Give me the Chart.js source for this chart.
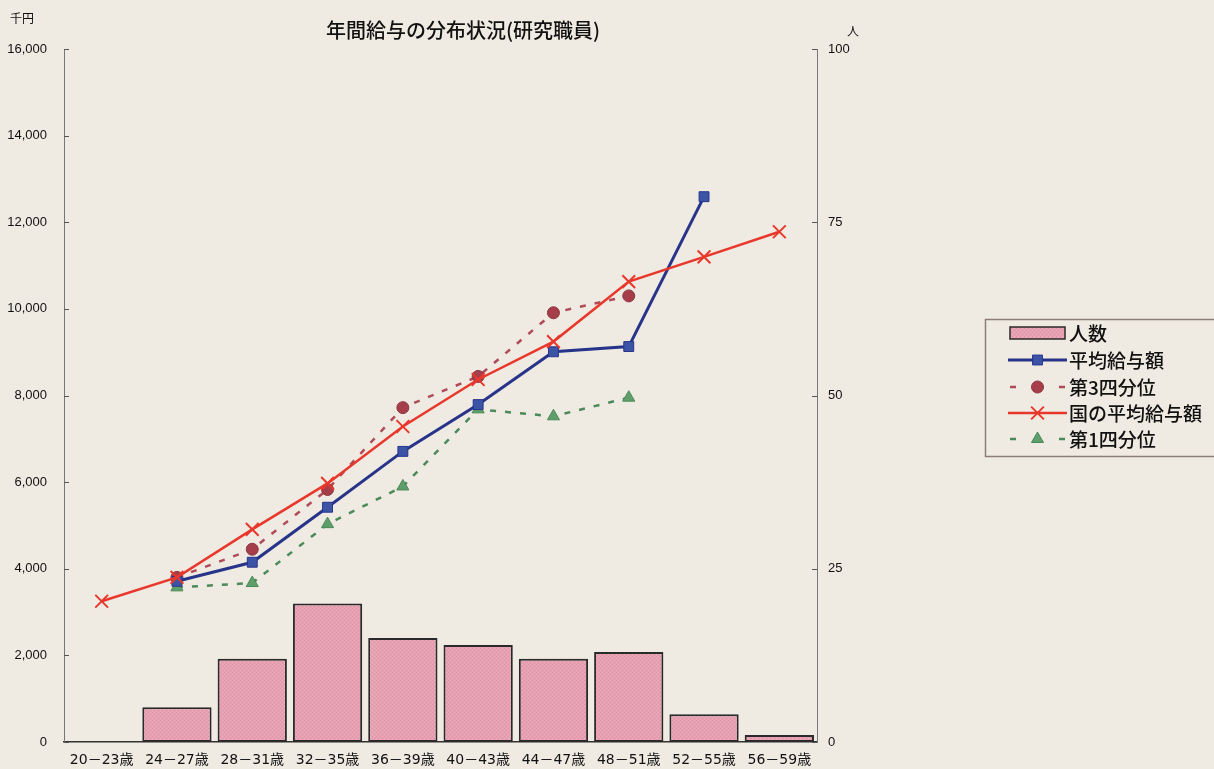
<!DOCTYPE html>
<html lang="ja">
<head>
<meta charset="utf-8">
<title>年間給与の分布状況(研究職員)</title>
<script src="https://cdn.jsdelivr.net/npm/chart.js@4/dist/chart.umd.min.js"></script>
<style>
  html, body { margin: 0; padding: 0; background: #efeae2; }
  #wrap { position: relative; width: 1214px; height: 769px; }
</style>
</head>
<body>
<div id="wrap"><canvas id="c"></canvas></div>
<script>
// Age brackets on the category axis
const categories = ['20－23歳', '24－27歳', '28－31歳', '32－35歳', '36－39歳',
                    '40－43歳', '44－47歳', '48－51歳', '52－55歳', '56－59歳'];

// Headcount per bracket (right axis, persons)
const headcount = [0, 5, 12, 20, 15, 14, 12, 13, 4, 1];

// Annual pay, thousand yen (left axis)
const avgPay    = [null, 3710, 4150, 5420, 6710, 7790, 9010, 9130, 12590, null];
const q3Pay     = [null, 3800, 4450, 5830, 7720, 8440, 9910, 10300, null, null];
const nationalAvgPay = [3250, 3800, 4910, 5970, 7285, 8370, 9245, 10630, 11200, 11780];
const q1Pay     = [null, 3570, 3670, 5030, 5900, 7680, 7520, 7950, null, null];

// Axis ticks
const payTicks    = [0, 2000, 4000, 6000, 8000, 10000, 12000, 14000, 16000];
const personTicks = [0, 25, 50, 75, 100];

const seriesNames = ['人数', '平均給与額', '第3四分位', '国の平均給与額', '第1四分位'];

// Stippled pink fill for the headcount bars
function makeBarPattern() {
  const p = document.createElement('canvas');
  p.width = 4; p.height = 4;
  const g = p.getContext('2d');
  g.fillStyle = '#e6a0b2';
  g.fillRect(0, 0, 4, 4);
  g.fillStyle = '#db92a5';
  g.fillRect(0, 0, 1, 1); g.fillRect(2, 2, 1, 1);
  g.fillStyle = '#efb1c1';
  g.fillRect(2, 0, 1, 1); g.fillRect(0, 2, 1, 1);
  return g.createPattern(p, 'repeat');
}
const barFill = makeBarPattern();

const FONT_NUM = "'Liberation Sans', Arial, sans-serif";
const FONT_CAT = "'DejaVu Sans', 'Noto Sans CJK JP', sans-serif";
const FONT_JP  = "'Noto Sans CJK JP', sans-serif";

// Short tick marks pointing into the plot on both value axes
const innerTicks = {
  id: 'innerTicks',
  afterDraw(chart) {
    const ctx = chart.ctx, a = chart.chartArea;
    ctx.save();
    ctx.strokeStyle = '#555';
    ctx.lineWidth = 1;
    const yl = chart.scales.y, yr = chart.scales.y1;
    ctx.beginPath();
    yl.ticks.forEach(t => {
      const py = Math.round(yl.getPixelForValue(t.value)) + 0.5;
      ctx.moveTo(a.left, py); ctx.lineTo(a.left + 5, py);
    });
    yr.ticks.forEach(t => {
      const py = Math.round(yr.getPixelForValue(t.value)) + 0.5;
      ctx.moveTo(a.right - 5, py); ctx.lineTo(a.right, py);
    });
    ctx.stroke();
    ctx.restore();
  }
};

// Title, unit captions and the boxed legend at the right
const annotations = {
  id: 'annotations',
  afterDraw(chart) {
    const ctx = chart.ctx;
    ctx.save();
    ctx.fillStyle = '#111';
    ctx.textBaseline = 'middle';
    ctx.textAlign = 'center';
    ctx.font = '500 20px ' + FONT_JP;
    ctx.fillText('年間給与の分布状況(研究職員)', 463, 30);
    ctx.font = '12px ' + FONT_JP;
    ctx.textAlign = 'left';
    ctx.fillText('千円', 10, 18);
    ctx.fillText('人', 847, 31);

    // legend box
    ctx.strokeStyle = '#8c7f78';
    ctx.lineWidth = 1.5;
    ctx.strokeRect(985.5, 319.5, 240, 137);

    const rows = [333, 360, 387, 413, 439];
    const x0 = 1008, x1 = 1067, xm = (x0 + x1) / 2;
    chart.data.datasets.forEach((ds, i) => {
      const y = rows[i];
      if (ds.type === 'bar') {
        ctx.fillStyle = barFill;
        ctx.fillRect(x0 + 2, y - 6, x1 - x0 - 4, 12);
        ctx.strokeStyle = '#2a2a2a';
        ctx.lineWidth = 1.5;
        ctx.strokeRect(x0 + 2, y - 6, x1 - x0 - 4, 12);
      } else {
        ctx.strokeStyle = ds.borderColor;
        ctx.lineWidth = ds.borderWidth;
        ctx.beginPath();
        if (ds.borderDash) {
          ctx.moveTo(x0 + 2, y); ctx.lineTo(x0 + 8, y);
          ctx.moveTo(x1 - 8, y); ctx.lineTo(x1 - 2, y);
        } else {
          ctx.moveTo(x0, y); ctx.lineTo(x1, y);
        }
        ctx.stroke();
        ctx.fillStyle = ds.pointBackgroundColor;
        ctx.strokeStyle = ds.pointBorderColor;
        ctx.lineWidth = ds.pointBorderWidth;
        Chart.helpers.drawPoint(ctx, {
          pointStyle: ds.pointStyle, radius: ds.pointRadius,
          rotation: 0, borderWidth: ds.pointBorderWidth
        }, xm, y);
      }
      ctx.fillStyle = '#111';
      ctx.font = '500 19px ' + FONT_JP;
      ctx.textAlign = 'left';
      ctx.fillText(ds.label, 1069, y + 1);
    });
    ctx.restore();
  }
};

new Chart(document.getElementById('c'), {
  type: 'bar',
  data: {
    labels: categories,
    datasets: [
      {
        type: 'bar', label: seriesNames[0], data: headcount, yAxisID: 'y1',
        backgroundColor: barFill, borderColor: '#2a2a2a', borderWidth: 2,
        borderSkipped: false,
        barPercentage: 0.92, categoryPercentage: 1.0, order: 10
      },
      {
        type: 'line', label: seriesNames[1], data: avgPay, yAxisID: 'y',
        borderColor: '#27348a', borderWidth: 3,
        pointStyle: 'rect', pointRadius: 7,
        pointBackgroundColor: '#3c54a6', pointBorderColor: '#27348a', pointBorderWidth: 1,
        order: 2
      },
      {
        type: 'line', label: seriesNames[2], data: q3Pay, yAxisID: 'y',
        borderColor: '#b04a58', borderWidth: 2.5, borderDash: [6, 9],
        pointStyle: 'circle', pointRadius: 6,
        pointBackgroundColor: '#a63e4a', pointBorderColor: '#8e3440', pointBorderWidth: 1,
        order: 3
      },
      {
        type: 'line', label: seriesNames[3], data: nationalAvgPay, yAxisID: 'y',
        borderColor: '#e8372b', borderWidth: 2.5,
        pointStyle: 'crossRot', pointRadius: 9,
        pointBackgroundColor: '#e8372b', pointBorderColor: '#e8372b', pointBorderWidth: 2,
        order: 1
      },
      {
        type: 'line', label: seriesNames[4], data: q1Pay, yAxisID: 'y',
        borderColor: '#4a8a58', borderWidth: 2.5, borderDash: [6, 9],
        pointStyle: 'triangle', pointRadius: 7,
        pointBackgroundColor: '#5e9e6a', pointBorderColor: '#4a8a58', pointBorderWidth: 1,
        order: 4
      }
    ]
  },
  options: {
    responsive: true,
    maintainAspectRatio: false,
    animation: false,
    layout: { padding: { top: 49, left: 0, right: 0, bottom: 0 } },
    plugins: { legend: { display: false }, tooltip: { enabled: false }, title: { display: false } },
    scales: {
      x: {
        grid: { display: false },
        border: { display: true, color: '#333', width: 1.5 },
        ticks: { color: '#111', font: { family: FONT_CAT, size: 14 }, padding: 2, maxRotation: 0, autoSkip: false },
        afterFit(s) { s.height = 27; }
      },
      y: {
        position: 'left', min: 0, max: 16000,
        afterBuildTicks(s) { s.ticks = payTicks.map(v => ({ value: v })); },
        grid: { display: false },
        border: { display: true, color: '#777', width: 1 },
        ticks: {
          color: '#111', font: { family: FONT_NUM, size: 13 }, padding: 9,
          callback: v => v.toLocaleString('en-US')
        },
        afterFit(s) { s.width = 64; }
      },
      y1: {
        position: 'right', min: 0, max: 100,
        afterBuildTicks(s) { s.ticks = personTicks.map(v => ({ value: v })); },
        grid: { display: false },
        border: { display: true, color: '#777', width: 1 },
        ticks: { color: '#111', font: { family: FONT_NUM, size: 13 }, padding: 3 },
        afterFit(s) { s.width = 1214 - 817; }
      }
    }
  },
  plugins: [innerTicks, annotations]
});
</script>
</body>
</html>
